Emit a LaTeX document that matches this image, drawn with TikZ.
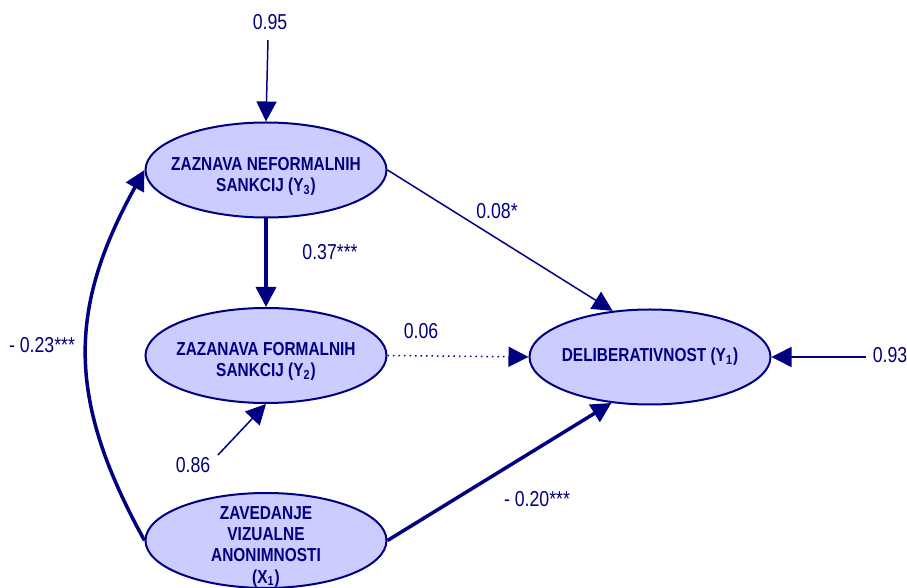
\documentclass[tikz,border=0pt]{standalone}
\usepackage{fontspec}
\setmainfont{Liberation Sans}[FakeStretch=0.82]
\usetikzlibrary{arrows.meta}
\usetikzlibrary{shapes.geometric}
\usetikzlibrary{positioning}
\definecolor{mnavy}{RGB}{0, 0, 128}
\definecolor{mfill}{RGB}{204, 204, 255}
\newcommand{\lowstrut}{\rule{0pt}{12.7pt}}
\tikzset{var/.style = {ellipse, draw=mnavy, fill=mfill, line width=1pt,
                       minimum width=120.5pt, minimum height=47.5pt,
                       inner xsep=-6pt, inner ysep=-8pt,
                       align=center, text=mnavy,
                       font=\fontsize{9.4}{10.6}\selectfont\bfseries}}
\tikzset{coef/.style = {text=mnavy, inner sep=0pt,
                        font=\fontsize{10.8}{12}\selectfont}}
\tikzset{eff/.style = {draw=mnavy, line width=0.75pt,
                       -{Triangle[length=10pt, width=10pt]}}}
\tikzset{strong/.style = {eff, line width=1.75pt}}

\begin{document}
\begin{tikzpicture}[x=0.5pt, y=-0.5pt]
      \useasboundingbox (0, 0) rectangle (907, 588);

      \node [var] (y3) at (266, 170) {\lowstrut ZAZNAVA NEFORMALNIH\\SANKCIJ (Y\textsubscript{3})};
      \node [var] (y2) at (266, 355.5) {\lowstrut ZAZANAVA FORMALNIH\\SANKCIJ (Y\textsubscript{2})};
      \node [var] (x1) at (266, 540.5) {\lowstrut ZAVEDANJE\\VIZUALNE\\ANONIMNOSTI\\(X\textsubscript{1})};
      \node [var] (y1) at (650, 357) {DELIBERATIVNOST (Y\textsubscript{1})};

      \coordinate (e95) at (268, 40);
      \coordinate (e86) at (218, 455);
      \coordinate (e93) at (866, 357);

      \node [coef] (c95) at (270, 22) {0.95};
      \node [coef] (c37) at (330, 252) {0.37***};
      \node [coef] (c08) at (497, 211) {0.08*};
      \node [coef] (c06) at (421, 331) {0.06};
      \node [coef] (c86) at (193, 465) {0.86};
      \node [coef] (c23) at (42, 345) {- 0.23***};
      \node [coef] (c20) at (537, 499) {- 0.20***};
      \node [coef] (c93) at (890, 355) {0.93};

      \draw [eff] (e95) -- (y3.north);
      \draw [strong] (y3) -- (y2);
      \draw [eff] (y3.east) -- (y1.129);
      \draw [eff, dotted] (y2.east) -- (y1.west);
      \draw [eff] (e86) -- (y2.south);
      \draw [strong] (x1.east) -- (y1.230);
      \draw [eff] (e93) -- (y1.east);

      \draw [strong] (x1.west) .. controls (67, 400) and (67, 310) .. (y3.west);
    \end{tikzpicture}
\end{document}
